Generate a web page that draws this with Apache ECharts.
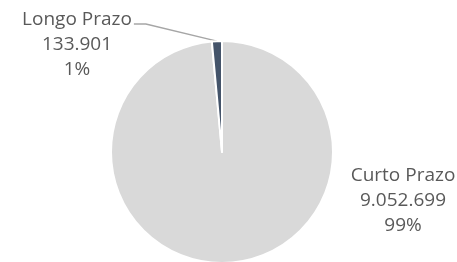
<!DOCTYPE html>
<html>
<head>
    <meta charset="UTF-8">
    <title>Prazo</title>
    <style type="text/css">
        body{
            margin:0;
            padding:0;
            background-color:white;
        }
        #main{
            width:457px;
            height:262px;
        }
    </style>
</head>
<body>
<div id="main"></div>
<script src="https://cdn.jsdelivr.net/npm/echarts@6/dist/echarts.min.js"></script>
<script type="text/javascript">
    var categories = ['Curto Prazo', 'Longo Prazo'];
    var values = [9052699, 133901];
    var valueLabels = ['9.052.699', '133.901'];
    var percentLabels = ['99%', '1%'];
    var colors = ['#d9d9d9', '#44546a'];

    var chart = echarts.init(document.getElementById('main'));

    var data = [];
    for (var i = 0; i < categories.length; i++) {
        data.push({
            name: categories[i],
            value: values[i],
            itemStyle: {color: colors[i]},
            labelLine: {show: i === 1}
        });
    }

    var option = {
        animation: false,
        series: [
            {
                type: 'pie',
                center: [222, 152],
                radius: [0, 111],
                startAngle: 90,
                clockwise: true,
                data: data,
                itemStyle: {borderColor: '#fff', borderWidth: 2},
                label: {
                    show: true,
                    position: 'outside',
                    color: '#595959',
                    fontFamily: 'Open Sans',
                    fontSize: 19,
                    lineHeight: 25,
                    align: 'center',
                    formatter: function(p) {
                        return p.name + '\n' + valueLabels[p.dataIndex] + '\n' + percentLabels[p.dataIndex];
                    }
                },
                labelLine: {
                    lineStyle: {color: '#a6a6a6', width: 1.5},
                    length: 10,
                    length2: 10
                },
                labelLayout: function(p) {
                    if (p.dataIndex === 1) {
                        var cx = 77, cy = 45;
                        var endX = cx + p.labelRect.width / 2 + 2;
                        var lineY = cy - 21;
                        var pts = p.labelLinePoints;
                        return {
                            x: cx, y: cy, align: 'center', verticalAlign: 'middle',
                            labelLinePoints: [pts[0], [endX + 12, lineY], [endX, lineY]]
                        };
                    }
                    return {x: 403, y: 201, align: 'center', verticalAlign: 'middle'};
                }
            }
        ]
    };
    chart.setOption(option);
</script>
</body>
</html>
